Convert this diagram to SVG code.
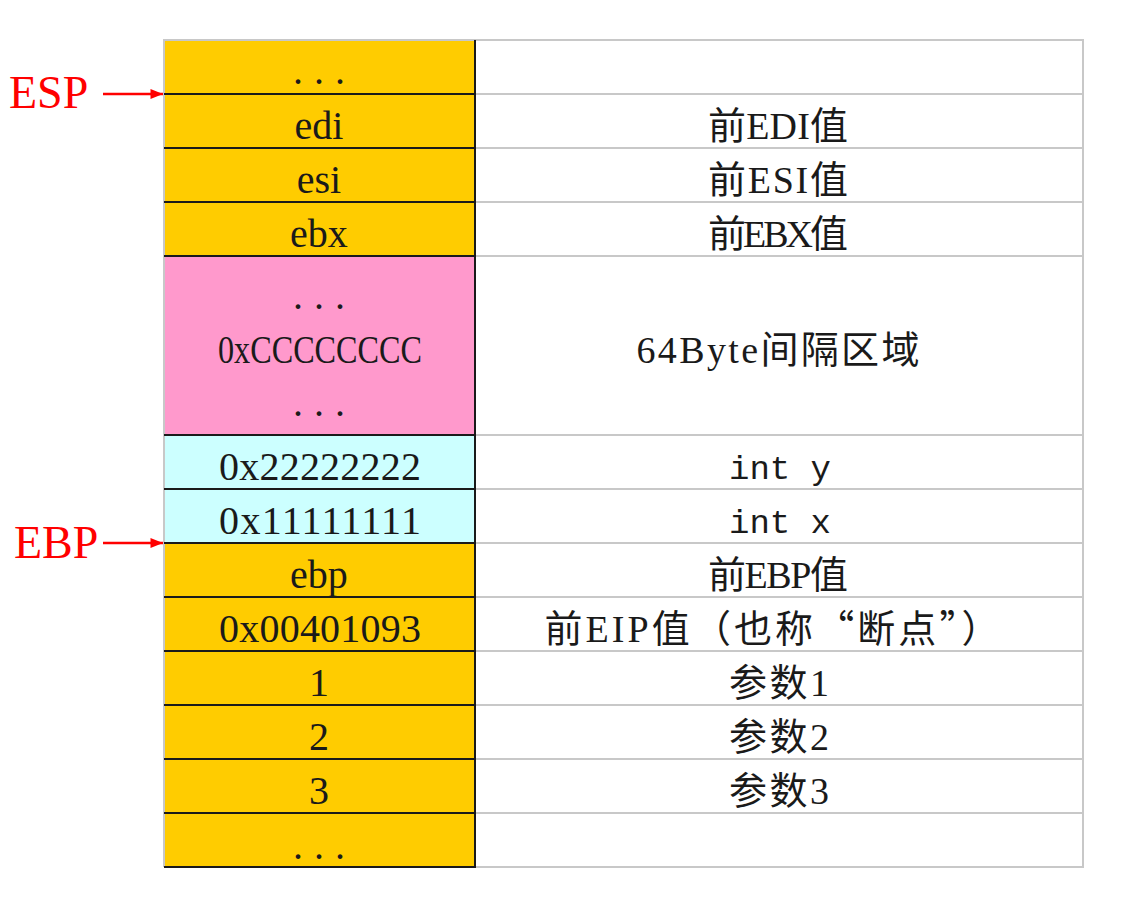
<svg xmlns="http://www.w3.org/2000/svg" width="1146" height="916" viewBox="0 0 1146 916">
<defs>
<style>
.gold{fill:#FFCC00}
.pink{fill:#FF99CC}
.cyan{fill:#CCFFFF}
.rc{fill:#FFFFFF}
.lt{font-family:"Liberation Serif","Noto Sans CJK SC",serif;font-size:40px;fill:#1a1a1a;text-anchor:middle}
.rt{font-family:"Liberation Serif","Noto Sans CJK SC",serif;font-size:38px;fill:#1a1a1a;text-anchor:middle}
.cj{font-family:"Noto Sans CJK SC",sans-serif;font-size:38px;fill:#1a1a1a;text-anchor:middle}
.ser{font-family:"Liberation Serif",serif}
.mono{font-family:"Liberation Mono",monospace;font-size:34px;fill:#1a1a1a;text-anchor:middle}
.dv{stroke:#1a1a1a;stroke-width:2;fill:none}
.gv{stroke:#C8C8C8;stroke-width:2;fill:none}
.lab{font-family:"Liberation Serif",serif;font-size:46px;fill:#FF0000}
.arr{stroke:#FF0000;stroke-width:2.5;fill:none}
</style>
<marker id="ah" viewBox="0 0 10 10" refX="10" refY="5" markerWidth="6.5" markerHeight="5" markerUnits="strokeWidth" orient="auto">
<path d="M0,1 L10,5 L0,9 z" fill="#FF0000"/>
</marker>
</defs>
<rect width="1146" height="916" fill="#FFFFFF"/>

<g id="r0"><rect class="gold" x="164" y="40" width="311" height="54"/><rect class="rc" x="475" y="40" width="608" height="54"/><text class="lt" x="319" y="84" textLength="52" lengthAdjust="spacing">...</text></g>
<g id="r1"><rect class="gold" x="164" y="94" width="311" height="54"/><rect class="rc" x="475" y="94" width="608" height="54"/><text class="lt" x="319" y="139">edi</text><text class="rt" x="778" y="139" textLength="140" lengthAdjust="spacing">前EDI值</text></g>
<g id="r2"><rect class="gold" x="164" y="148" width="311" height="54"/><rect class="rc" x="475" y="148" width="608" height="54"/><text class="lt" x="319" y="193">esi</text><text class="rt" x="778" y="193" textLength="140" lengthAdjust="spacing">前ESI值</text></g>
<g id="r3"><rect class="gold" x="164" y="202" width="311" height="54"/><rect class="rc" x="475" y="202" width="608" height="54"/><text class="lt" x="319" y="247">ebx</text><text class="rt" x="778" y="247" textLength="140" lengthAdjust="spacing">前EBX值</text></g>
<g id="r4"><rect class="pink" x="164" y="256" width="311" height="179"/><rect class="rc" x="475" y="256" width="608" height="179"/><text class="lt" x="319" y="309" textLength="52" lengthAdjust="spacing">...</text><text class="lt" x="320" y="363" textLength="204" lengthAdjust="spacingAndGlyphs">0xCCCCCCCC</text><text class="lt" x="319" y="416" textLength="52" lengthAdjust="spacing">...</text><text class="rt" x="778" y="363" textLength="283" lengthAdjust="spacing">64Byte间隔区域</text></g>
<g id="r5"><rect class="cyan" x="164" y="435" width="311" height="54"/><rect class="rc" x="475" y="435" width="608" height="54"/><text class="lt" x="320" y="480" textLength="202" lengthAdjust="spacing">0x22222222</text><text class="mono" x="780" y="479">int y</text></g>
<g id="r6"><rect class="cyan" x="164" y="489" width="311" height="54"/><rect class="rc" x="475" y="489" width="608" height="54"/><text class="lt" x="320" y="534" textLength="202" lengthAdjust="spacing">0x11111111</text><text class="mono" x="780" y="533">int x</text></g>
<g id="r7"><rect class="gold" x="164" y="543" width="311" height="54"/><rect class="rc" x="475" y="543" width="608" height="54"/><text class="lt" x="319" y="588">ebp</text><text class="rt" x="778" y="588" textLength="140" lengthAdjust="spacing">前EBP值</text></g>
<g id="r8"><rect class="gold" x="164" y="597" width="311" height="54"/><rect class="rc" x="475" y="597" width="608" height="54"/><text class="lt" x="320" y="642" textLength="202" lengthAdjust="spacing">0x00401093</text><text class="cj" x="772" y="642" textLength="455" lengthAdjust="spacing">前<tspan class="ser">EIP</tspan>值（也称“断点”）</text></g>
<g id="r9"><rect class="gold" x="164" y="651" width="311" height="54"/><rect class="rc" x="475" y="651" width="608" height="54"/><text class="lt" x="319" y="696">1</text><text class="rt" x="779" y="696" textLength="100" lengthAdjust="spacing">参数1</text></g>
<g id="r10"><rect class="gold" x="164" y="705" width="311" height="54"/><rect class="rc" x="475" y="705" width="608" height="54"/><text class="lt" x="319" y="750">2</text><text class="rt" x="779" y="750" textLength="100" lengthAdjust="spacing">参数2</text></g>
<g id="r11"><rect class="gold" x="164" y="759" width="311" height="54"/><rect class="rc" x="475" y="759" width="608" height="54"/><text class="lt" x="319" y="804">3</text><text class="rt" x="779" y="804" textLength="100" lengthAdjust="spacing">参数3</text></g>
<g id="r12"><rect class="gold" x="164" y="813" width="311" height="54"/><rect class="rc" x="475" y="813" width="608" height="54"/><text class="lt" x="319" y="859" textLength="52" lengthAdjust="spacing">...</text></g>

<g id="grid">
<path class="gv" d="M475,40 H1083 V867 H475 M475,94 H1083 M475,148 H1083 M475,202 H1083 M475,256 H1083 M475,435 H1083 M475,489 H1083 M475,543 H1083 M475,597 H1083 M475,651 H1083 M475,705 H1083 M475,759 H1083 M475,813 H1083"/>
<path class="gv" d="M164,867 V40 H475"/>
<path class="dv" d="M475,40 V868 M164,867 H476 M164,94 H476 M164,148 H476 M164,202 H476 M164,256 H476 M164,435 H476 M164,489 H476 M164,543 H476 M164,597 H476 M164,651 H476 M164,705 H476 M164,759 H476 M164,813 H476"/>
</g>

<g id="labels">
<text class="lab" x="9" y="108">ESP</text>
<text class="lab" x="14" y="558">EBP</text>
</g>

<g id="connectors">
<line class="arr" x1="103" y1="94" x2="163" y2="94" marker-end="url(#ah)"/>
<line class="arr" x1="103" y1="543" x2="163" y2="543" marker-end="url(#ah)"/>
</g>
</svg>
